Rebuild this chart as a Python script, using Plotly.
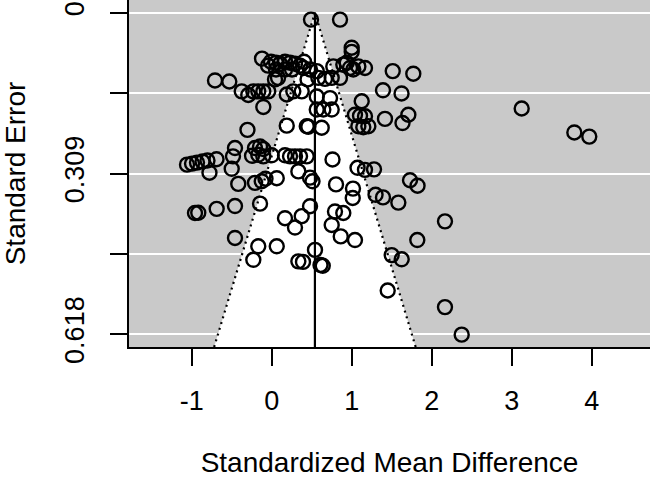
import plotly.graph_objects as go

# Study effect sizes (standardized mean difference) and standard errors
smd = [0.491, 0.854, 1.000, 1.000, -0.121, -0.046, -0.009, 0.054, 0.104, 0.166,
       0.229, 0.291, 0.354, 0.166, 0.254, 0.054, 0.404, 0.395, 0.479, 0.563,
       0.770, 0.895, 0.938, 0.979, 1.020, 1.083, 1.166, 1.513, 1.770, -0.709,
       -0.530, 0.041, 0.079, 0.448, 0.583, 0.666, 0.750, 0.854, -0.375, -0.293,
       -0.230, -0.168, -0.105, -0.043, 0.188, 0.270, 0.375, 0.563, 0.729, 1.391,
       1.623, 1.125, -0.105, 0.563, 0.645, 0.750, 1.041, 1.104, 1.166, 1.083,
       1.145, 1.208, 1.416, 1.708, 1.635, -0.303, 0.188, 0.438, 0.458, 0.625,
       3.125, 3.783, 3.970, -0.459, -0.484, -0.209, -0.146, -0.105, -0.246, -0.168,
       -0.105, 0.000, 0.166, 0.229, 0.291, 0.354, 0.438, 0.760, 1.073, 1.166,
       1.279, -1.059, -0.996, -0.934, -0.865, -0.803, -0.690, -0.778, -0.500, 0.333,
       -0.418, -0.209, -0.125, -0.078, 0.063, 0.479, 0.510, 0.804, 1.016, 1.013,
       1.298, 1.391, 1.583, 1.729, 1.823, -0.959, -0.918, -0.688, -0.459, -0.146,
       0.479, 0.375, 0.166, 0.291, 0.750, 0.791, 0.895, 2.166, -0.459, -0.168,
       0.063, -0.230, 0.863, 1.041, 1.820, 0.541, 0.333, 0.391, 0.610, 0.638,
       1.500, 1.625, 1.450, 2.166, 2.375]
sei = [0.013, 0.013, 0.067, 0.075, 0.088, 0.1015, 0.094, 0.096, 0.098, 0.094,
       0.096, 0.098, 0.1015, 0.109, 0.109, 0.109, 0.094, 0.106, 0.109, 0.112,
       0.103, 0.0995, 0.096, 0.106, 0.109, 0.103, 0.106, 0.112, 0.117, 0.130,
       0.132, 0.128, 0.125, 0.128, 0.125, 0.127, 0.125, 0.125, 0.151, 0.158,
       0.151, 0.151, 0.151, 0.151, 0.157, 0.151, 0.151, 0.161, 0.164, 0.149,
       0.155, 0.170, 0.181, 0.186, 0.186, 0.186, 0.196, 0.198, 0.199, 0.218,
       0.220, 0.218, 0.204, 0.196, 0.212, 0.225, 0.217, 0.218, 0.219, 0.221,
       0.184, 0.230, 0.238, 0.260, 0.276, 0.260, 0.257, 0.262, 0.275, 0.273,
       0.276, 0.274, 0.274, 0.276, 0.276, 0.276, 0.276, 0.282, 0.298, 0.302,
       0.301, 0.292, 0.290, 0.288, 0.286, 0.284, 0.2815, 0.3075, 0.300, 0.305,
       0.329, 0.327, 0.324, 0.319, 0.318, 0.317, 0.324, 0.330, 0.338, 0.356,
       0.350, 0.355, 0.365, 0.322, 0.3325, 0.385, 0.3845, 0.377, 0.3716, 0.367,
       0.372, 0.391, 0.395, 0.413, 0.408, 0.382, 0.385, 0.401, 0.433, 0.449,
       0.449, 0.475, 0.430, 0.437, 0.437, 0.456, 0.478, 0.479, 0.485, 0.4865,
       0.466, 0.474, 0.534, 0.566, 0.619]

estimate = 0.54          # pooled estimate (centre of funnel)
z_crit = 1.96
se_max = 0.618
se_ticks = [0, 0.1545, 0.309, 0.4635, 0.618]
se_labels = ["0", "", "0.309", "", "0.618"]
x_ticks = [-1, 0, 1, 2, 3, 4]
x_labels = ["-1", "0", "1", "2", "3", "4"]
x_range = [-1.784, 4.729]

y_lo = -0.04 * se_max
y_hi = 1.04 * se_max

funnel_x = [estimate - z_crit * y_hi, estimate, estimate + z_crit * y_hi]
funnel_y = [y_hi, 0, y_hi]

fig = go.Figure()
fig.add_trace(go.Scatter(x=funnel_x, y=funnel_y, fill="toself", fillcolor="white",
                         mode="lines", line=dict(width=0, color="white"), hoverinfo="skip"))
fig.add_trace(go.Scatter(x=funnel_x, y=funnel_y, mode="lines",
                         line=dict(color="black", width=2.2, dash="2px,4px"), hoverinfo="skip"))
fig.add_trace(go.Scatter(x=[estimate, estimate], y=[0, y_hi], mode="lines",
                         line=dict(color="black", width=2.2), hoverinfo="skip"))
fig.add_trace(go.Scatter(x=smd, y=sei, mode="markers",
                         marker=dict(symbol="circle-open", size=14, color="black",
                                     line=dict(width=2.4, color="black"))))

font_family = "Liberation Sans, Arial, Helvetica, sans-serif"
fig.update_layout(
    width=650, height=478,
    margin=dict(l=129, r=0, t=0, b=131),
    plot_bgcolor="#C9C9C9", paper_bgcolor="white",
    showlegend=False,
    font=dict(family=font_family, size=27, color="black"),
    xaxis=dict(range=x_range, tickvals=x_ticks, ticktext=x_labels,
               ticks="outside", ticklen=17, tickwidth=2, tickcolor="black",
               showline=True, linewidth=2, linecolor="black", automargin=False,
               showgrid=False, zeroline=False, ticklabelstandoff=12,
               tickfont=dict(size=27),
               title=dict(text="Standardized Mean Difference", standoff=46,
                          font=dict(size=28))),
    yaxis=dict(range=[y_hi, y_lo], tickvals=se_ticks, ticktext=se_labels,
               tickangle=-90, ticks="outside", ticklen=17, tickwidth=2,
               tickcolor="black", showline=True, linewidth=2, linecolor="black",
               showgrid=True, gridcolor="white", gridwidth=2, zeroline=False,
               automargin=False, ticklabelstandoff=15, tickfont=dict(size=27),
               title=dict(text="Standard Error", standoff=53, font=dict(size=28))),
)

fig.write_html("out.html", config={"displayModeBar": False},
               post_script="document.body.style.margin='0';document.body.style.overflow='hidden';")
